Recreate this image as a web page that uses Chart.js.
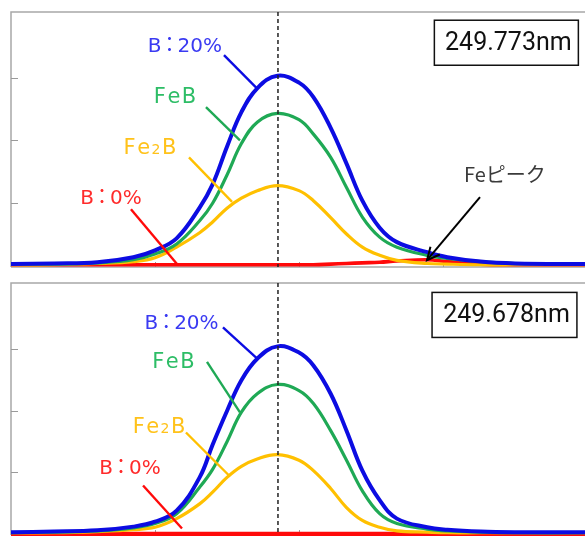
<!DOCTYPE html>
<html>
<head>
<meta charset="utf-8">
<script src="https://cdn.jsdelivr.net/npm/chart.js@4/dist/chart.umd.min.js"></script>
<style>
  html, body { margin: 0; padding: 0; background: #ffffff; overflow: hidden; width: 585px; height: 536px; }
  .panel { position: absolute; left: 0; }
  #p1 { top: 0; }
  #p2 { top: 276px; }
</style>
</head>
<body>
<div class="panel" id="p1"><canvas id="c1" width="600" height="276"></canvas></div>
<div class="panel" id="p2"><canvas id="c2" width="600" height="260"></canvas></div>
<script>
// ---- data ----
const xPositions = [0, 0.3, 0.6, 0.85, 1.0, 1.15, 1.31, 1.4, 1.5, 1.6, 1.71, 1.85, 2.0, 2.1, 2.22, 2.33, 2.44, 2.56, 2.68, 2.89, 3.03, 3.26, 3.5, 4.0];

// panel 1 : 249.773nm
const b20Top   = [0.03, 0.04, 0.06, 0.14, 0.25, 0.44, 0.93, 1.30, 1.90, 2.45, 2.83, 3.03, 2.92, 2.69, 2.20, 1.63, 1.04, 0.61, 0.38, 0.22, 0.14, 0.07, 0.04, 0.03];
const feBTop   = [0.03, 0.03, 0.05, 0.10, 0.19, 0.35, 0.72, 1.00, 1.45, 1.95, 2.29, 2.43, 2.33, 2.10, 1.73, 1.25, 0.78, 0.46, 0.30, 0.17, 0.12, 0.07, 0.04, 0.03];
const fe2BTop  = [0.02, 0.02, 0.04, 0.07, 0.13, 0.30, 0.53, 0.70, 0.92, 1.08, 1.20, 1.28, 1.20, 1.04, 0.77, 0.51, 0.30, 0.17, 0.09, 0.04, 0.03, 0.02, 0.02, 0.02];
const b0Top    = [0.02, 0.02, 0.02, 0.02, 0.02, 0.02, 0.02, 0.02, 0.02, 0.02, 0.02, 0.02, 0.02, 0.02, 0.03, 0.04, 0.05, 0.06, 0.08, 0.10, 0.07, 0.03, 0.02, 0.02];

// panel 2 : 249.678nm
const b20Bot   = [0.03, 0.04, 0.06, 0.12, 0.20, 0.38, 0.92, 1.45, 2.00, 2.50, 2.85, 3.05, 2.95, 2.74, 2.28, 1.68, 1.03, 0.55, 0.25, 0.11, 0.07, 0.04, 0.03, 0.03];
const feBBot   = [0.02, 0.03, 0.05, 0.10, 0.17, 0.33, 0.76, 1.05, 1.50, 1.98, 2.28, 2.43, 2.33, 2.12, 1.68, 1.20, 0.70, 0.33, 0.17, 0.08, 0.05, 0.03, 0.02, 0.02];
const fe2BBot  = [0.02, 0.02, 0.04, 0.07, 0.11, 0.25, 0.49, 0.68, 0.92, 1.10, 1.22, 1.29, 1.20, 1.03, 0.74, 0.43, 0.22, 0.11, 0.05, 0.03, 0.02, 0.02, 0.02, 0.02];
const b0Bot    = [0.00, 0.00, 0.00, 0.00, 0.00, 0.00, 0.00, 0.00, 0.00, 0.00, 0.00, 0.00, 0.00, 0.00, 0.00, 0.00, 0.00, 0.00, 0.00, 0.00, 0.00, 0.00, 0.00, 0.00];

const xTickValues = [1, 2, 3];
const yTickValues = [1, 2, 3];
const peakPosition = 1.854;
const wavelengthTop = '249.773nm';
const wavelengthBot = '249.678nm';
const seriesNames = ['B：20%', 'FeB', 'Fe2B', 'B：0%'];
const feNote = 'Feピーク';

// ---- styles ----
const lineColors  = ['#0c0ce2', '#1fa955', '#ffc000', '#ff0a0a'];
const labelColors = ['#3a3af2', '#2dbd66', '#ffc21a', '#ff2b2b'];
const lineWidths  = [4, 3.2, 3.2, 3.6];
const LABEL_FONT = '"DejaVu Sans", "Noto Sans CJK JP", sans-serif';

function pts(ys) { return xPositions.map((x, i) => ({ x: x, y: ys[i] })); }

function makeDatasets(series, redWidth) {
  return series.map((ys, i) => ({
    label: seriesNames[i],
    data: pts(ys),
    borderColor: lineColors[i],
    borderWidth: i === 3 ? redWidth : lineWidths[i],
    pointRadius: 0,
    fill: false,
    tension: 0.4,
    order: i,
    clip: 8
  }));
}

// split a label into drawable pieces (size, extra spacing, fixed advance)
function labelParts(name) {
  if (name === 'Fe2B') return [{ t: 'F', s: 21, ls: 1.5 }, { t: 'e', s: 21, ls: 1.5 }, { t: '2', s: 14, ls: 1.5 }, { t: 'B', s: 21, ls: 0 }];
  if (name === 'FeB') return [{ t: 'F', s: 21, ls: 1.5 }, { t: 'e', s: 21, ls: 1.5 }, { t: 'B', s: 21, ls: 0 }];
  const k = name.indexOf('：');
  if (k >= 0) return [{ t: name.slice(0, k), s: 20, ls: 0 }, { t: '：', s: 20, adv: 16 }, { t: name.slice(k + 1), s: 20, ls: 0 }];
  return [{ t: name, s: 20, ls: 0 }];
}

function drawParts(ctx, parts, cx, cy, color) {
  let w = 0;
  parts.forEach(p => {
    ctx.font = p.s + 'px ' + LABEL_FONT;
    p.gw = ctx.measureText(p.t).width;
    p.w = p.adv !== undefined ? p.adv : p.gw + (p.ls || 0);
    w += p.w;
  });
  let x = cx - w / 2;
  const base = cy + 7.5;
  ctx.fillStyle = color;
  ctx.textBaseline = 'alphabetic';
  ctx.textAlign = 'left';
  parts.forEach(p => {
    ctx.font = p.s + 'px ' + LABEL_FONT;
    const off = p.adv !== undefined ? (p.adv - p.gw) / 2 : 0;
    ctx.fillText(p.t, x + off, base);
    x += p.w;
  });
}

const decor = {
  id: 'decor',
  beforeDatasetsDraw(chart, args, o) {
    const { ctx, chartArea: a, scales: { x, y } } = chart;
    ctx.save();
    ctx.strokeStyle = '#a8a8a8';
    ctx.lineWidth = 1.5;
    ctx.beginPath();
    ctx.moveTo(a.left, a.bottom + 1); ctx.lineTo(a.left, a.top); ctx.lineTo(a.right, a.top); ctx.lineTo(a.right, a.bottom + 1);
    ctx.moveTo(a.left, a.bottom + 1); ctx.lineTo(a.right, a.bottom + 1);
    ctx.stroke();
    ctx.lineWidth = 1;
    ctx.strokeStyle = '#9a9a9a';
    ctx.beginPath();
    yTickValues.forEach(v => { const py = Math.round(y.getPixelForValue(v)) + 0.5; ctx.moveTo(a.left, py); ctx.lineTo(a.left + 7, py); });
    xTickValues.forEach(v => { const px = Math.round(x.getPixelForValue(v)) + 0.5; ctx.moveTo(px, a.bottom + 1); ctx.lineTo(px, a.bottom - 4); });
    ctx.stroke();
    ctx.restore();
  },
  afterDatasetsDraw(chart, args, o) {
    const { ctx, chartArea: a, scales: { x, y } } = chart;
    ctx.save();
    // dashed peak line
    const px = x.getPixelForValue(peakPosition);
    ctx.strokeStyle = '#222222';
    ctx.lineWidth = 1.5;
    ctx.setLineDash([4, 3]);
    ctx.beginPath(); ctx.moveTo(px, a.top); ctx.lineTo(px, a.bottom + 1); ctx.stroke();
    ctx.setLineDash([]);
    // series labels with leader lines
    o.labels.forEach((L, i) => {
      ctx.strokeStyle = lineColors[i];
      ctx.lineWidth = 2.4;
      ctx.beginPath();
      ctx.moveTo(x.getPixelForValue(L.from[0]), y.getPixelForValue(L.from[1]));
      ctx.lineTo(x.getPixelForValue(L.to[0]), y.getPixelForValue(L.to[1]));
      ctx.stroke();
      drawParts(ctx, labelParts(seriesNames[i]), x.getPixelForValue(L.at[0]), y.getPixelForValue(L.at[1]), labelColors[i]);
    });
    // wavelength box
    const bx0 = x.getPixelForValue(o.box.x0), bx1 = x.getPixelForValue(o.box.x1);
    const by0 = y.getPixelForValue(o.box.y0), by1 = y.getPixelForValue(o.box.y1);
    ctx.fillStyle = '#ffffff';
    ctx.fillRect(bx0, by0, bx1 - bx0, by1 - by0);
    ctx.strokeStyle = '#111111';
    ctx.lineWidth = 1.5;
    ctx.strokeRect(bx0, by0, bx1 - bx0, by1 - by0);
    ctx.fillStyle = '#111111';
    ctx.font = '25px Roboto, "Liberation Sans", sans-serif';
    ctx.textAlign = 'center';
    ctx.textBaseline = 'middle';
    ctx.fillText(o.box.text, (bx0 + bx1) / 2 + 2, (by0 + by1) / 2 + 1);
    // Fe peak note with arrow
    if (o.note) {
      const n = o.note;
      ctx.fillStyle = '#3a3a3a';
      ctx.font = '20px "Noto Sans CJK JP", sans-serif';
      ctx.textAlign = 'center';
      ctx.textBaseline = 'middle';
      ctx.fillText(feNote, x.getPixelForValue(n.at[0]), y.getPixelForValue(n.at[1]));
      const x0 = x.getPixelForValue(n.from[0]), y0 = y.getPixelForValue(n.from[1]);
      const x1 = x.getPixelForValue(n.to[0]), y1 = y.getPixelForValue(n.to[1]);
      ctx.strokeStyle = '#000000';
      ctx.lineWidth = 2;
      ctx.beginPath(); ctx.moveTo(x0, y0); ctx.lineTo(x1, y1); ctx.stroke();
      const ang = Math.atan2(y1 - y0, x1 - x0), h = 14, sp = 0.45;
      ctx.beginPath();
      ctx.moveTo(x1 - h * Math.cos(ang - sp), y1 - h * Math.sin(ang - sp));
      ctx.lineTo(x1, y1);
      ctx.lineTo(x1 - h * Math.cos(ang + sp), y1 - h * Math.sin(ang + sp));
      ctx.stroke();
    }
    ctx.restore();
  }
};

function makeChart(id, series, yMax, padding, redWidth, decorOpts) {
  return new Chart(document.getElementById(id), {
    type: 'line',
    data: { datasets: makeDatasets(series, redWidth) },
    options: {
      responsive: false,
      animation: false,
      devicePixelRatio: 1,
      layout: { padding: padding },
      scales: {
        x: { type: 'linear', min: 0, max: 4, display: false },
        y: { type: 'linear', min: 0, max: yMax, display: false }
      },
      plugins: { legend: { display: false }, tooltip: { enabled: false }, decor: decorOpts }
    },
    plugins: [decor]
  });
}

makeChart('c1', [b20Top, feBTop, fe2BTop, b0Top], 4.045, { left: 11, top: 12, right: 13, bottom: 10 }, 3.6, {
  labels: [
    { at: [1.208, 3.52], from: [1.479, 3.357], to: [1.708, 2.83] },
    { at: [1.139, 2.72], from: [1.354, 2.53], to: [1.59, 2.0] },
    { at: [0.965, 1.91], from: [1.236, 1.73], to: [1.535, 1.02] },
    { at: [0.694, 1.11], from: [0.833, 0.905], to: [1.16, 0.013] }
  ],
  box: { x0: 2.94, x1: 3.94, y0: 3.914, y1: 3.197, text: wavelengthTop },
  note: { at: [3.43, 1.46], from: [3.257, 1.096], to: [2.889, 0.092] }
});

makeChart('c2', [b20Bot, feBBot, fe2BBot, b0Bot], 4.08, { left: 11, top: 7, right: 13, bottom: 2 }, 4.4, {
  labels: [
    { at: [1.184, 3.455], from: [1.472, 3.358], to: [1.708, 2.854] },
    { at: [1.128, 2.82], from: [1.361, 2.797], to: [1.59, 1.976] },
    { at: [1.028, 1.764], from: [1.215, 1.65], to: [1.521, 0.935] },
    { at: [0.826, 1.098], from: [0.917, 0.789], to: [1.1875, 0.089] }
  ],
  box: { x0: 2.924, x1: 3.93, y0: 3.927, y1: 3.195, text: wavelengthBot },
  note: null
});
</script>
</body>
</html>
